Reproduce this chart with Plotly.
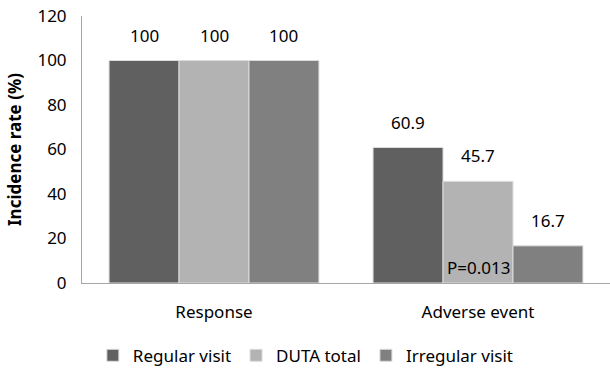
import plotly.graph_objects as go

categories = ["Response", "Adverse event"]
series_names = ["Regular visit", "DUTA total", "Irregular visit"]
regular_visit = [100, 60.9]
duta_total = [100, 45.7]
irregular_visit = [100, 16.7]
y_ticks = [0, 20, 40, 60, 80, 100, 120]
p_label = "P=0.013"

colors = ["#606060", "#b3b3b3", "#808080"]
font_family = "Noto Sans, Open Sans, sans-serif"
FS = 17

W, H = 610, 372
ML, MR, MT, MB = 82, 0, 16, 89
BARGAP = 0.205
cat_px = (W - ML - MR) / len(categories)
bar_px = cat_px * (1 - BARGAP) / len(series_names)

fig = go.Figure()
all_series = [regular_visit, duta_total, irregular_visit]
for name, vals, c in zip(series_names, all_series, colors):
    fig.add_trace(go.Bar(
        x=categories, y=vals, name=name,
        marker=dict(color=c, line=dict(color="#dcdcdc", width=1)),
    ))

# value labels above bars
for i, vals in enumerate(all_series):
    for cat, v in zip(categories, vals):
        fig.add_annotation(x=cat, y=v, xref="x", yref="y", text=f"{v:g}", showarrow=False,
                           xshift=(i - 1) * bar_px, yshift=12, yanchor="bottom",
                           font=dict(size=FS, color="#000000", family=font_family))

fig.add_annotation(x=categories[1], y=0, xref="x", yref="y", text=p_label, showarrow=False,
                   xshift=0, yshift=16, font=dict(size=FS, color="#000000", family=font_family))

fig.update_layout(
    width=W, height=H,
    margin=dict(l=ML, r=MR, t=MT, b=MB, autoexpand=False),
    paper_bgcolor="white", plot_bgcolor="white",
    font=dict(family=font_family, size=FS, color="#000000"),
    barmode="group", bargap=BARGAP, bargroupgap=0.0,
    showlegend=True,
    legend=dict(orientation="h", x=0.424, xanchor="center",
                y=-0.205, yanchor="top",
                font=dict(size=FS), itemwidth=30, tracegroupgap=0),
    xaxis=dict(showline=True, linecolor="#a6a6a6", linewidth=1, ticks="", automargin=False,
               tickfont=dict(size=FS), ticklabelstandoff=14),
    yaxis=dict(range=[0, 120], tickvals=y_ticks, showgrid=False, showline=True,
               linecolor="#a6a6a6", linewidth=1, ticks="", zeroline=False, automargin=False,
               tickfont=dict(size=FS), ticklabelstandoff=11,
               title=dict(text="<b>Incidence rate (%)</b>", font=dict(size=FS), standoff=11)),
)

fig.write_html("out.html", config={"displayModeBar": False},
               post_script="document.body.style.margin='0';")
